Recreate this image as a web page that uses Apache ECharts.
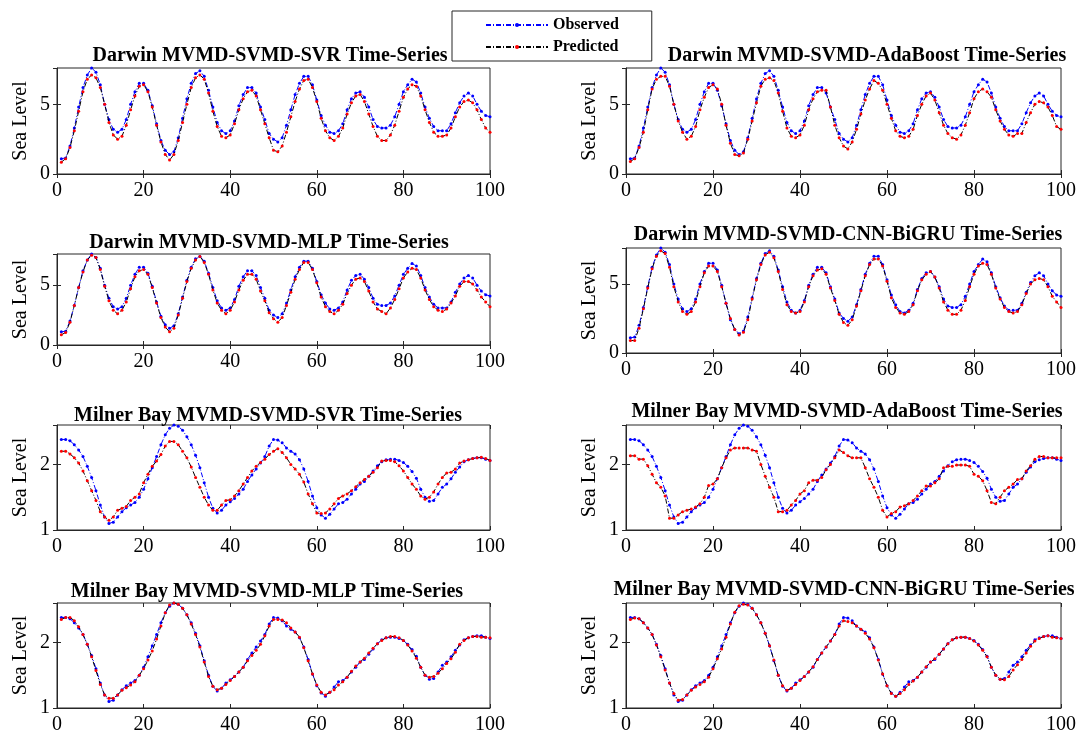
<!DOCTYPE html>
<html><head><meta charset="utf-8">
<script src="https://cdn.jsdelivr.net/npm/echarts@6/dist/echarts.min.js"></script>
<style>html,body{margin:0;padding:0;background:#fff}#c{width:1080px;height:735px}</style>
</head><body><div id="c"></div>
<script>
const titles = [
 'Darwin MVMD-SVMD-SVR Time-Series','Darwin MVMD-SVMD-AdaBoost Time-Series',
 'Darwin MVMD-SVMD-MLP Time-Series','Darwin MVMD-SVMD-CNN-BiGRU Time-Series',
 'Milner Bay MVMD-SVMD-SVR Time-Series','Milner Bay MVMD-SVMD-AdaBoost Time-Series',
 'Milner Bay MVMD-SVMD-MLP Time-Series','Milner Bay MVMD-SVMD-CNN-BiGRU Time-Series'];
const xTicks = [0,20,40,60,80,100];
const darwinObs = [
1.1,1.15,2.0,3.3,4.8,6.2,7.1,7.6,7.3,6.4,
5.0,3.9,3.2,3.0,3.2,3.9,5.0,5.9,6.5,6.5,
6.0,4.9,3.6,2.4,1.7,1.4,1.6,2.6,4.0,5.4,
6.5,7.2,7.4,7.0,6.0,4.8,3.7,3.1,2.9,3.1,
3.8,4.9,5.7,6.2,6.2,5.8,4.8,3.9,2.9,2.5,
2.3,2.6,3.5,4.6,5.7,6.5,7.0,7.0,6.4,5.3,
4.2,3.5,3.0,2.9,3.1,3.6,4.6,5.4,5.8,5.9,
5.5,4.8,3.9,3.4,3.3,3.3,3.5,4.1,5.0,5.9,
6.4,6.8,6.6,5.8,4.8,4.0,3.4,3.1,3.1,3.1,
3.6,4.4,5.1,5.6,5.8,5.6,5.0,4.5,4.2,4.1];
const darwinSVR = [
0.85,1.1,1.9,3.1,4.5,5.9,6.8,7.1,6.9,6.2,
5.0,3.7,2.8,2.5,2.7,3.5,4.6,5.6,6.3,6.4,
5.9,4.8,3.5,2.3,1.4,1.0,1.4,2.4,3.7,5.0,
6.2,6.9,7.1,6.8,5.8,4.5,3.4,2.7,2.6,2.8,
3.6,4.6,5.4,5.9,6.0,5.6,4.6,3.6,2.6,1.7,
1.6,2.0,3.0,4.1,5.2,6.1,6.7,6.8,6.2,5.2,
4.0,3.1,2.6,2.4,2.7,3.3,4.3,5.1,5.6,5.7,
5.2,4.3,3.4,2.7,2.4,2.4,2.8,3.5,4.5,5.5,
6.1,6.4,6.3,5.6,4.6,3.7,3.0,2.7,2.7,2.8,
3.3,4.1,4.8,5.2,5.3,5.1,4.6,3.9,3.3,3.0];
const darwinAda = [
0.9,1.1,1.9,3.0,4.6,6.1,6.8,7.0,7.0,6.3,
5.0,3.8,3.0,2.5,2.7,3.4,4.6,5.5,6.2,6.4,
6.1,5.0,3.5,2.2,1.4,1.3,1.5,2.5,3.8,5.1,
6.3,6.8,6.9,6.7,5.8,4.5,3.3,2.7,2.6,2.8,
3.5,4.6,5.4,5.9,6.0,6.0,4.8,3.5,2.6,2.0,
1.8,2.3,3.2,4.3,5.3,6.1,6.7,6.5,6.0,5.0,
4.0,3.1,2.7,2.6,2.7,3.2,4.2,5.0,5.6,5.8,
5.3,4.4,3.5,2.9,2.6,2.5,2.8,3.5,4.4,5.4,
5.9,6.1,5.9,5.5,4.6,3.8,3.2,2.8,2.7,2.9,
2.9,3.7,4.4,5.0,5.2,5.1,4.8,4.2,3.4,3.2];
const darwinMLP = [
0.85,1.05,1.9,3.3,4.8,6.1,7.1,7.5,7.3,6.3,
4.9,3.7,2.9,2.6,2.9,3.6,4.7,5.7,6.2,6.3,
5.9,4.8,3.5,2.3,1.5,1.1,1.4,2.5,3.9,5.3,
6.4,7.1,7.4,6.9,5.9,4.6,3.5,2.9,2.6,2.9,
3.6,4.6,5.4,5.9,5.9,5.5,4.5,3.7,2.7,2.2,
1.9,2.3,3.3,4.4,5.5,6.3,6.9,6.9,6.3,5.2,
4.0,3.2,2.8,2.6,2.9,3.4,4.3,5.0,5.5,5.6,
5.3,4.5,3.6,3.0,2.8,2.6,3.1,3.8,4.7,5.6,
6.1,6.4,6.3,5.6,4.6,3.8,3.2,2.9,2.8,3.0,
3.5,4.1,4.9,5.3,5.3,5.1,4.6,4.0,3.6,3.2];
const darwinCNN = [
0.9,0.9,1.8,3.2,4.7,6.1,7.0,7.4,7.2,6.2,
4.8,3.7,3.0,2.8,3.0,3.7,4.8,5.8,6.3,6.3,
5.9,4.8,3.6,2.5,1.7,1.3,1.5,2.4,3.9,5.3,
6.4,7.1,7.3,6.9,5.9,4.6,3.5,3.0,2.9,3.0,
3.7,4.8,5.6,6.0,6.1,5.7,4.7,3.8,2.8,2.2,
2.0,2.4,3.4,4.5,5.6,6.4,6.8,6.8,6.3,5.2,
4.0,3.3,2.9,2.8,3.0,3.5,4.5,5.3,5.7,5.9,
5.5,4.7,3.7,3.1,2.8,2.8,3.1,3.8,4.8,5.7,
6.3,6.5,6.4,5.7,4.7,3.9,3.3,3.0,2.9,3.0,
3.5,4.3,5.0,5.3,5.4,5.3,4.8,4.1,3.7,3.3];
const milnerObs = [
2.38,2.38,2.36,2.3,2.22,2.12,1.97,1.8,1.6,1.38,
1.2,1.1,1.12,1.2,1.28,1.34,1.38,1.42,1.5,1.62,
1.78,1.95,2.12,2.3,2.45,2.55,2.6,2.58,2.52,2.42,
2.3,2.14,1.95,1.72,1.5,1.33,1.26,1.3,1.38,1.43,
1.48,1.55,1.62,1.74,1.84,1.93,2.02,2.12,2.28,2.38,
2.37,2.33,2.25,2.2,2.16,2.07,1.93,1.74,1.52,1.34,
1.23,1.18,1.24,1.32,1.4,1.42,1.47,1.55,1.62,1.7,
1.74,1.82,1.9,1.98,2.04,2.07,2.08,2.08,2.06,2.03,
1.97,1.89,1.79,1.62,1.5,1.44,1.45,1.55,1.65,1.7,
1.78,1.88,1.96,2.04,2.07,2.09,2.1,2.1,2.08,2.06];
const milnerSVR = [
2.2,2.2,2.16,2.1,2.02,1.9,1.75,1.6,1.45,1.28,
1.2,1.15,1.2,1.3,1.33,1.36,1.45,1.5,1.55,1.72,
1.85,1.97,2.05,2.15,2.28,2.35,2.35,2.3,2.2,2.1,
1.96,1.8,1.65,1.5,1.38,1.3,1.3,1.38,1.45,1.46,
1.52,1.6,1.7,1.8,1.9,1.97,2.03,2.08,2.15,2.2,
2.24,2.18,2.1,2.0,1.93,1.85,1.73,1.55,1.4,1.26,
1.25,1.26,1.32,1.4,1.48,1.52,1.55,1.6,1.66,1.72,
1.77,1.82,1.88,1.95,2.05,2.06,2.06,2.04,1.98,1.9,
1.8,1.7,1.62,1.52,1.47,1.5,1.58,1.7,1.8,1.87,
1.88,1.93,2.02,2.05,2.07,2.09,2.1,2.11,2.09,2.06];
const milnerAda = [
2.13,2.13,2.08,2.08,1.98,1.85,1.72,1.65,1.52,1.18,
1.18,1.23,1.28,1.3,1.32,1.35,1.4,1.5,1.68,1.7,
1.78,1.95,2.1,2.22,2.25,2.25,2.25,2.25,2.22,2.2,
2.0,1.82,1.65,1.5,1.28,1.28,1.3,1.38,1.45,1.55,
1.6,1.72,1.76,1.76,1.8,1.92,2.0,2.1,2.22,2.18,
2.13,2.1,2.1,2.1,1.95,1.78,1.65,1.5,1.3,1.2,
1.25,1.28,1.35,1.37,1.4,1.45,1.52,1.6,1.67,1.67,
1.72,1.78,1.95,1.97,1.97,1.99,1.99,1.99,1.97,1.85,
1.82,1.75,1.6,1.42,1.4,1.5,1.6,1.65,1.7,1.77,
1.78,1.9,1.98,2.08,2.12,2.12,2.1,2.1,2.1,2.1];
const milnerMLP = [
2.35,2.38,2.38,2.33,2.24,2.12,1.97,1.78,1.57,1.36,
1.2,1.15,1.15,1.2,1.27,1.31,1.35,1.4,1.5,1.6,
1.73,1.87,2.05,2.25,2.45,2.57,2.6,2.58,2.52,2.42,
2.28,2.12,1.93,1.7,1.48,1.33,1.28,1.3,1.36,1.42,
1.48,1.55,1.62,1.72,1.8,1.88,1.97,2.1,2.25,2.35,
2.35,2.34,2.3,2.22,2.16,2.08,1.92,1.72,1.52,1.35,
1.24,1.2,1.24,1.28,1.35,1.4,1.47,1.56,1.64,1.7,
1.76,1.84,1.91,1.98,2.03,2.07,2.09,2.09,2.07,2.03,
1.96,1.87,1.76,1.62,1.5,1.47,1.48,1.53,1.6,1.68,
1.75,1.85,1.97,2.03,2.07,2.09,2.09,2.08,2.08,2.07];
const milnerCNN = [
2.35,2.37,2.36,2.3,2.22,2.12,1.96,1.78,1.58,1.38,
1.22,1.12,1.13,1.2,1.27,1.32,1.36,1.4,1.47,1.6,
1.75,1.9,2.08,2.28,2.46,2.56,2.58,2.57,2.52,2.42,
2.3,2.14,1.95,1.73,1.5,1.34,1.27,1.3,1.36,1.42,
1.48,1.55,1.63,1.74,1.84,1.93,2.02,2.12,2.25,2.33,
2.32,2.3,2.25,2.2,2.14,2.05,1.92,1.73,1.52,1.34,
1.22,1.18,1.22,1.28,1.36,1.41,1.47,1.55,1.63,1.7,
1.75,1.82,1.9,1.98,2.04,2.07,2.08,2.08,2.06,2.02,
1.96,1.88,1.78,1.62,1.5,1.44,1.43,1.48,1.58,1.66,
1.74,1.84,1.94,2.02,2.06,2.09,2.1,2.08,2.07,2.06];

const observedSets = [darwinObs,darwinObs,darwinObs,darwinObs,milnerObs,milnerObs,milnerObs,milnerObs];
const predictedSets = [darwinSVR,darwinAda,darwinMLP,darwinCNN,milnerSVR,milnerAda,milnerMLP,milnerCNN];

const FONT = "'Liberation Serif','Times New Roman',serif";
const grids = [
 {left:57, top:68, width:433, height:106},
 {left:626, top:68, width:435, height:106},
 {left:57, top:254, width:433, height:91},
 {left:626, top:248, width:435, height:105},
 {left:57, top:425, width:433, height:105},
 {left:626, top:425, width:435, height:105},
 {left:57, top:603, width:433, height:105},
 {left:626, top:603, width:435, height:105}];
const titlePos = [[265,53],[862,53],[264,240],[843,232],[263,413],[842,409],[262,589],[839,587]];

const toPairs = arr => arr.map((v,i)=>[i+1, v]);
const dash = [5,2,1,2];
const AX = '#262626';

const xAxes = [], yAxes = [];
grids.forEach((g,i)=>{
  const darwin = i<4;
  const xBase = {type:'value', gridIndex:i, min:xTicks[0], max:xTicks[xTicks.length-1], interval:20, splitLine:{show:false}};
  const yBase = {type:'value', gridIndex:i, min: darwin?0:1, max: darwin?7.6:2.6, interval: darwin?5:1, splitLine:{show:false}};
  xAxes.push(Object.assign({}, xBase, {
    position:'bottom',
    axisLine:{lineStyle:{color:AX}},
    axisTick:{inside:true, length:4, lineStyle:{color:AX}},
    axisLabel:{fontFamily:FONT, fontSize:20, color:'#000', margin:7}
  }));
  xAxes.push(Object.assign({}, xBase, {
    position:'top',
    axisLine:{show:false}, axisLabel:{show:false},
    axisTick:{inside:true, length:4, lineStyle:{color:AX}}
  }));
  yAxes.push(Object.assign({}, yBase, {
    position:'left',
    name:'Sea Level', nameLocation:'middle', nameRotate:90, nameGap:26,
    nameTextStyle:{fontFamily:FONT, fontSize:20, color:'#000'},
    axisLine:{lineStyle:{color:AX}},
    axisTick:{inside:true, length:4, lineStyle:{color:AX}},
    axisLabel:{fontFamily:FONT, fontSize:20, color:'#000', margin:7, showMaxLabel:false}
  }));
  yAxes.push(Object.assign({}, yBase, {
    position:'right',
    axisLine:{show:false}, axisLabel:{show:false},
    axisTick:{inside:true, length:4, lineStyle:{color:AX}}
  }));
});

const option = {
  animation:false,
  backgroundColor:'#fff',
  title: titles.map((t,i)=>({
    text:t, left:titlePos[i][0], top:titlePos[i][1]-12, textAlign:'center',
    textStyle:{fontFamily:FONT, fontWeight:'bold', fontSize:20, color:'#000'}
  })),
  legend:{
    data:['Observed','Predicted'], orient:'vertical', left:452, top:11,
    itemWidth:62, itemHeight:5, itemGap:6, padding:[6,33,6,33],
    borderColor:AX, borderWidth:1, backgroundColor:'#fff', z:10,
    textStyle:{fontFamily:FONT, fontWeight:'bold', fontSize:16, color:'#000'}
  },
  grid: grids.map(g=>Object.assign({show:true, borderColor:AX, borderWidth:1, backgroundColor:'#fff'}, g)),
  xAxis: xAxes,
  yAxis: yAxes,
  series: []
};
for (let i=0;i<8;i++){
  option.series.push({
    name:'Observed', type:'line', xAxisIndex:2*i, yAxisIndex:2*i, data:toPairs(observedSets[i]),
    symbol:'circle', symbolSize:3, showSymbol:true,
    lineStyle:{color:'#0000ff', width:1, type:dash}, itemStyle:{color:'#0000ff'}, z:2
  });
  option.series.push({
    name:'Predicted', type:'line', xAxisIndex:2*i, yAxisIndex:2*i, data:toPairs(predictedSets[i]),
    symbol:'circle', symbolSize:3, showSymbol:true,
    lineStyle:{color:'#000000', width:1, type:dash}, itemStyle:{color:'#ff0000'}, z:3
  });
}
const chart = echarts.init(document.getElementById('c'), null, {renderer:'canvas'});
chart.setOption(option);
</script>
</body></html>
